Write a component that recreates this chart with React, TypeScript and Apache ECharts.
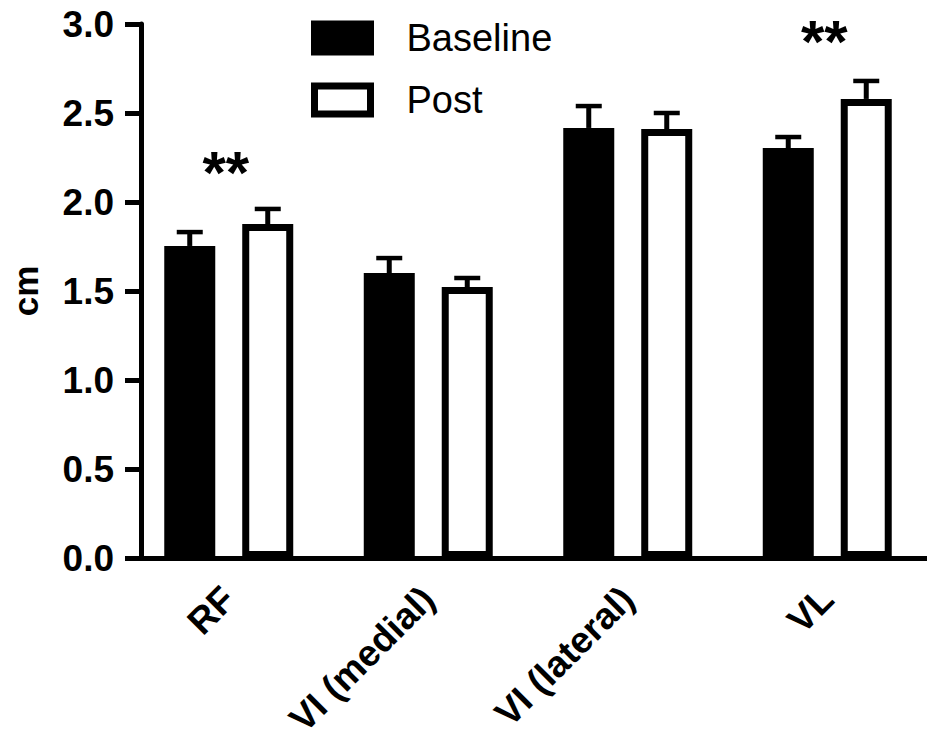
import React, { useEffect, useRef } from "react";
import * as echarts from "echarts";

const categories = ["RF", "VI (medial)", "VI (lateral)", "VL"];
const baseline = [1.753, 1.601, 2.416, 2.303];
const baselineErr = [0.078, 0.084, 0.123, 0.062];
const post = [1.876, 1.522, 2.41, 2.579];
const postErr = [0.085, 0.051, 0.09, 0.101];
const sigLabels = ["**", "", "", "**"];
const sigY = [2.165, 0, 0, 2.9];
const yTicks = [0, 0.5, 1.0, 1.5, 2.0, 2.5, 3.0];

const FONT = "'Liberation Sans', Arial, sans-serif";

export default function App() {
  const ref = useRef<HTMLDivElement>(null);
  useEffect(() => {
    document.body.style.margin = "0";
    const chart = echarts.init(ref.current!, null, { renderer: "svg" });
    const errData: any[] = [];
    baseline.forEach((v, i) => errData.push([i, v, baselineErr[i], -1]));
    post.forEach((v, i) => errData.push([i, v, postErr[i], 1]));
    const sigData: any[] = [];
    sigLabels.forEach((s, i) => {
      if (s) sigData.push({ value: [i, sigY[i]], text: s });
    });
    chart.setOption({
      animation: false,
      backgroundColor: "#ffffff",
      grid: { left: 122.5, top: 24, width: 820, bottom: 191 },
      legend: {
        data: ["Baseline", "Post"],
        orient: "vertical",
        left: 306,
        top: 14,
        icon: "rect",
        itemWidth: 56,
        itemHeight: 28,
        itemGap: 24,
        itemStyle: { borderWidth: 7, borderColor: "#000" },
        textStyle: { fontFamily: FONT, fontSize: 38, color: "#000", padding: [0, 0, 0, 31] },
      },
      xAxis: {
        type: "category",
        data: categories,
        axisLine: { lineStyle: { color: "#000", width: 5 } },
        axisTick: { length: 17, lineStyle: { width: 5, color: "#000" }, alignWithLabel: true },
        axisLabel: {
          rotate: 45,
          interval: 0,
          margin: 35,
          fontFamily: FONT,
          fontWeight: "bold",
          fontSize: 37,
          color: "#000",
        },
      },
      yAxis: {
        type: "value",
        min: 0,
        max: 3,
        interval: 0.5,
        offset: -12,
        name: "cm",
        nameLocation: "middle",
        nameRotate: 90,
        nameGap: 98,
        nameTextStyle: { fontFamily: FONT, fontWeight: "bold", fontSize: 35, color: "#000" },
        splitLine: { show: false },
        axisLine: { show: true, lineStyle: { color: "#000", width: 5 } },
        axisTick: { show: true, length: 16, lineStyle: { width: 5, color: "#000" } },
        axisLabel: {
          margin: 27,
          fontFamily: FONT,
          fontWeight: "bold",
          fontSize: 37,
          color: "#000",
          formatter: (v: number) => (yTicks.includes(v) ? v.toFixed(1) : ""),
        },
      },
      series: [
        {
          name: "Baseline",
          type: "bar",
          data: baseline,
          barWidth: 51,
          barGap: "52.9%",
          itemStyle: { color: "#000", borderColor: "#000", borderWidth: 7 },
        },
        {
          name: "Post",
          type: "bar",
          data: post,
          barWidth: 51,
          itemStyle: { color: "#fff", borderColor: "#000", borderWidth: 7 },
        },
        {
          type: "custom",
          z: 5,
          data: errData,
          renderItem: (params: any, api: any) => {
            const idx = api.value(0);
            const v = api.value(1);
            const e = api.value(2);
            const sign = api.value(3);
            const base = api.coord([idx, v]);
            const top = api.coord([idx, v + e]);
            const x = base[0] + sign * 39;
            return {
              type: "group",
              children: [
                { type: "line", shape: { x1: x, y1: base[1], x2: x, y2: top[1] }, style: { stroke: "#000", lineWidth: 5 } },
                { type: "line", shape: { x1: x - 13, y1: top[1], x2: x + 13, y2: top[1] }, style: { stroke: "#000", lineWidth: 4.5 } },
              ],
            };
          },
        },
        {
          type: "custom",
          z: 6,
          data: sigData,
          renderItem: (params: any, api: any) => {
            const p = api.coord([api.value(0), api.value(1)]);
            return {
              type: "text",
              style: {
                text: sigData[params.dataIndex].text,
                x: p[0] - 3,
                y: p[1],
                align: "center",
                verticalAlign: "middle",
                fontFamily: FONT,
                fontWeight: "bold",
                fontSize: 60,
                fill: "#000",
              },
            };
          },
        },
      ],
    });
    return () => chart.dispose();
  }, []);
  return <div ref={ref} style={{ width: 927, height: 749 }} />;
}
